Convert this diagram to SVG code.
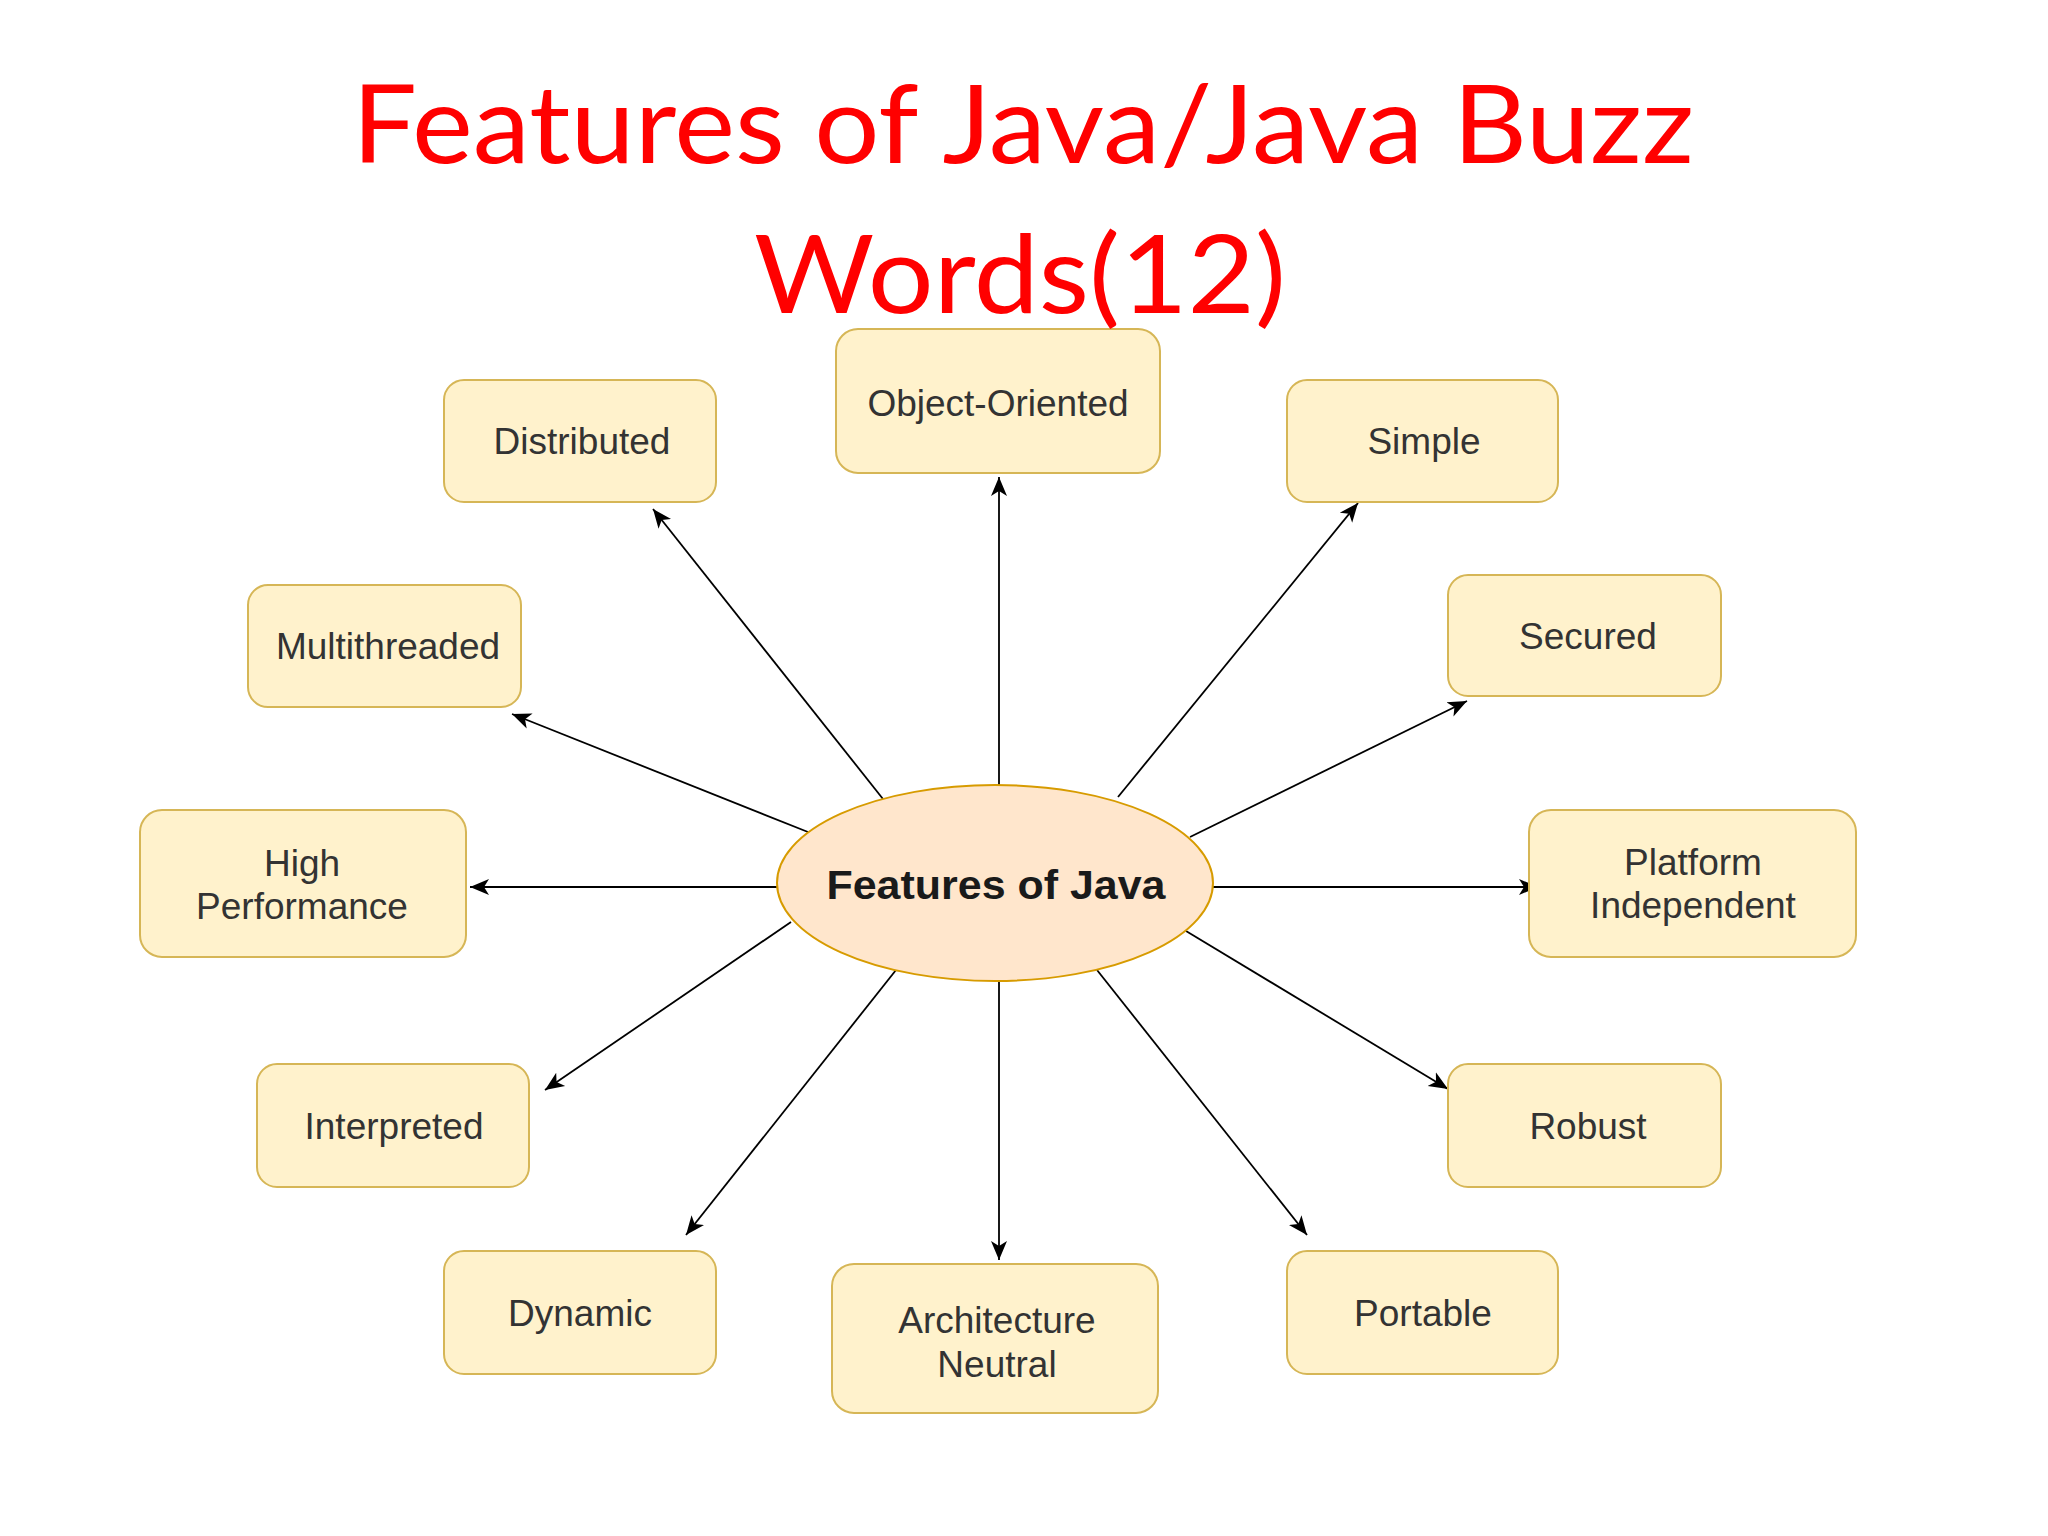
<svg xmlns="http://www.w3.org/2000/svg" width="2048" height="1536" viewBox="0 0 2048 1536">
<style>
.node rect{fill:#fff2cc;stroke:#d6b656;stroke-width:2}
.node text{font-family:"Liberation Sans",Arial,sans-serif;font-size:37px;fill:#333333;text-anchor:middle}
.hub ellipse{fill:#ffe6cc;stroke:#d79b00;stroke-width:2}
.hub text{font-family:"Liberation Sans",Arial,sans-serif;font-size:41px;font-weight:bold;fill:#1a1a1a;text-anchor:middle}
.edge{stroke:#000;stroke-width:1.8;fill:none;marker-end:url(#arr)}
.title{font-family:Lato,"Open Sans",sans-serif;font-size:109px;fill:#ff0000;text-anchor:middle}
</style>
<defs>
<marker id="arr" markerUnits="userSpaceOnUse" markerWidth="20" markerHeight="18" viewBox="0 0 20 18" refX="19" refY="9" orient="auto">
<path d="M0,1 L19,9 L0,17 L5,9 z" fill="#000"/>
</marker>
</defs>
<rect width="2048" height="1536" fill="#ffffff"/>
<g id="connectors">
<line class="edge" x1="999" y1="785" x2="999" y2="477"/>
<line class="edge" x1="883" y1="799" x2="653" y2="509"/>
<line class="edge" x1="1118" y1="797" x2="1358" y2="503"/>
<line class="edge" x1="808" y1="832" x2="512" y2="714"/>
<line class="edge" x1="1190" y1="837" x2="1467" y2="701"/>
<line class="edge" x1="777" y1="887" x2="470" y2="887"/>
<line class="edge" x1="1212" y1="887" x2="1538" y2="887"/>
<line class="edge" x1="791" y1="922" x2="545" y2="1090"/>
<line class="edge" x1="1186" y1="931" x2="1448" y2="1089"/>
<line class="edge" x1="896" y1="970" x2="686" y2="1235"/>
<line class="edge" x1="999" y1="981" x2="999" y2="1260"/>
<line class="edge" x1="1097" y1="970" x2="1307" y2="1235"/>
</g>
<g id="node-distributed" class="node"><rect x="444" y="380" width="272" height="122" rx="20"/><text x="582" y="454">Distributed</text></g>
<g id="node-object-oriented" class="node"><rect x="836" y="329" width="324" height="144" rx="22"/><text x="998" y="416">Object-Oriented</text></g>
<g id="node-simple" class="node"><rect x="1287" y="380" width="271" height="122" rx="20"/><text x="1424" y="454">Simple</text></g>
<g id="node-multithreaded" class="node"><rect x="248" y="585" width="273" height="122" rx="20"/><text x="388" y="659">Multithreaded</text></g>
<g id="node-secured" class="node"><rect x="1448" y="575" width="273" height="121" rx="20"/><text x="1588" y="649">Secured</text></g>
<g id="node-high-performance" class="node"><rect x="140" y="810" width="326" height="147" rx="22"/><text x="302" y="876">High</text><text x="302" y="919">Performance</text></g>
<g id="node-platform-independent" class="node"><rect x="1529" y="810" width="327" height="147" rx="22"/><text x="1693" y="875">Platform</text><text x="1693" y="918">Independent</text></g>
<g id="node-interpreted" class="node"><rect x="257" y="1064" width="272" height="123" rx="20"/><text x="394" y="1139">Interpreted</text></g>
<g id="node-robust" class="node"><rect x="1448" y="1064" width="273" height="123" rx="20"/><text x="1588" y="1139">Robust</text></g>
<g id="node-dynamic" class="node"><rect x="444" y="1251" width="272" height="123" rx="20"/><text x="580" y="1326">Dynamic</text></g>
<g id="node-architecture-neutral" class="node"><rect x="832" y="1264" width="326" height="149" rx="22"/><text x="997" y="1333">Architecture</text><text x="997" y="1377">Neutral</text></g>
<g id="node-portable" class="node"><rect x="1287" y="1251" width="271" height="123" rx="20"/><text x="1423" y="1326">Portable</text></g>
<g id="node-features-of-java" class="hub"><ellipse cx="995" cy="883" rx="218" ry="98"/><text x="996" y="899" textLength="339" lengthAdjust="spacingAndGlyphs">Features of Java</text></g>
<g id="title">
<text class="title" x="1023" y="163" textLength="1342" lengthAdjust="spacingAndGlyphs">Features of Java/Java Buzz</text>
<text class="title" x="1020" y="313" textLength="532" lengthAdjust="spacingAndGlyphs">Words(12)</text>
</g>
</svg>
